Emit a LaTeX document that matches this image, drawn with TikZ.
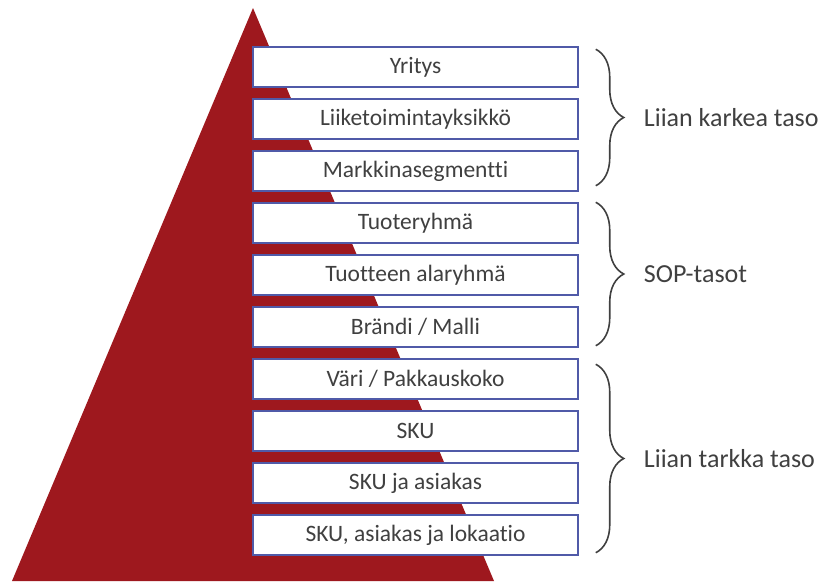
\documentclass[tikz,border=0pt]{standalone}
\usepackage{fontspec}
\setmainfont{Carlito}[Ligatures={NoCommon}]
\usepackage{tikz}
\usetikzlibrary{positioning}
\usetikzlibrary{decorations.pathreplacing}
\definecolor{cr}{RGB}{158,24,30}
\definecolor{cb}{RGB}{80,90,168}
\definecolor{cbt}{RGB}{64,64,64}
\tikzstyle{level}=[cbt, draw=cb, fill=white, line width=1.5pt, minimum width=325pt, minimum height=40pt, inner sep=0pt, font=\fontsize{23.5}{26}\selectfont]
\tikzstyle{group}=[cbt, font=\fontsize{26}{30}\selectfont]
\tikzstyle{brace}=[cbt, line width=1.6pt, decorate, decoration={brace, amplitude=28pt}]

\begin{document}
\begin{tikzpicture}[x=1pt, y=-1pt]
  \useasboundingbox (0,0) rectangle (827,581);
  \fill [cr] (253,8) -- (494,581) -- (12,581) -- cycle;
  \foreach \l [count=\i] in {Yritys,Liiketoimintayksikkö,Markkinasegmentti,Tuoteryhmä,Tuotteen alaryhmä,Brändi / Malli,Väri / Pakkauskoko,SKU,SKU ja asiakas,{SKU, asiakas ja lokaatio}}{
    \node [level] (level-\i) at (415.5, 67+\i*52-52) {\l};
  }
  \draw [brace] ([xshift=17pt, yshift=-3pt]level-1.north east) -- node[group, right=44pt]{Liian karkea taso} ([xshift=17pt, yshift=6pt]level-3.south east);
  \draw [brace] ([xshift=17pt, yshift=0pt]level-4.north east) -- node[group, right=44pt]{SOP-tasot} ([xshift=17pt, yshift=2pt]level-6.south east);
  \draw [brace] ([xshift=17pt, yshift=-6pt]level-7.north east) -- node[group, right=44pt]{Liian tarkka taso} ([xshift=17pt, yshift=3pt]level-10.south east);
\end{tikzpicture}
\end{document}
